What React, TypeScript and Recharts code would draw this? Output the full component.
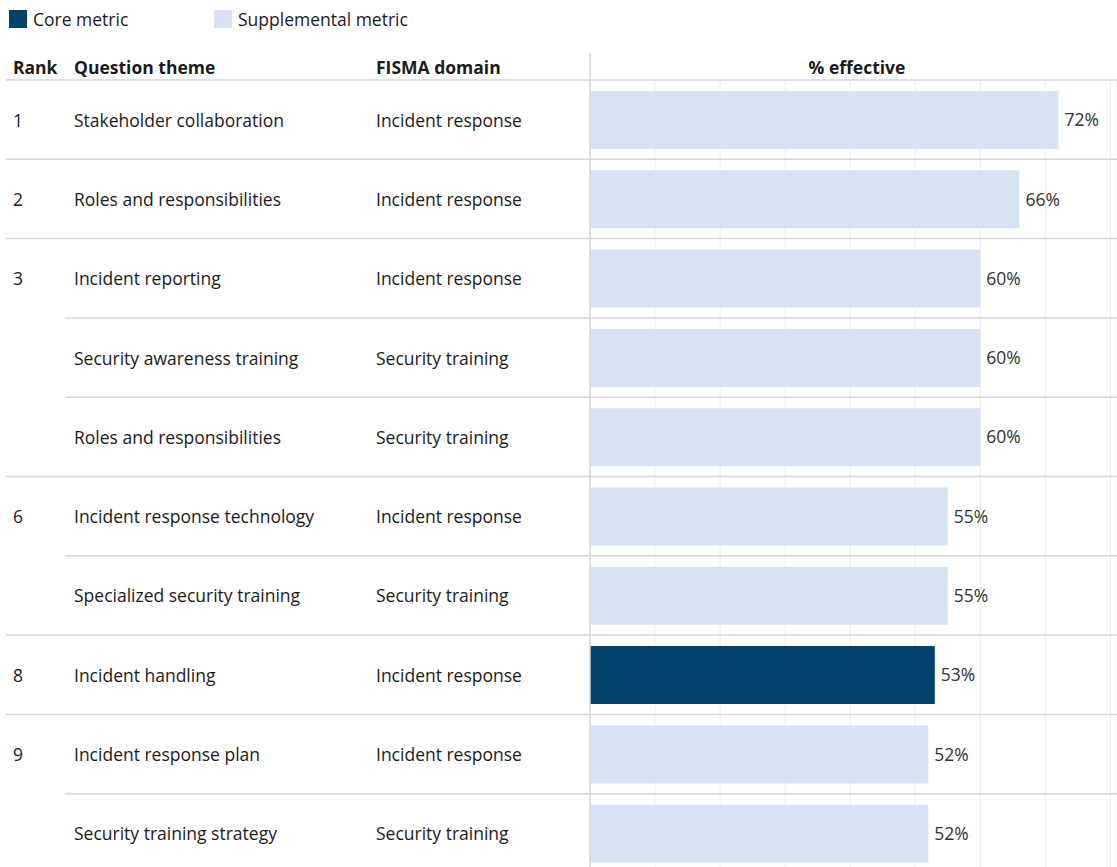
import { BarChart, Bar, XAxis, YAxis, CartesianGrid, Cell, LabelList, ReferenceLine } from 'recharts';

const ranks = ['1', '2', '3', '', '', '6', '', '8', '9', ''];
const themes = [
  'Stakeholder collaboration',
  'Roles and responsibilities',
  'Incident reporting',
  'Security awareness training',
  'Roles and responsibilities',
  'Incident response technology',
  'Specialized security training',
  'Incident handling',
  'Incident response plan',
  'Security training strategy',
];
const domains = [
  'Incident response',
  'Incident response',
  'Incident response',
  'Security training',
  'Security training',
  'Incident response',
  'Security training',
  'Incident response',
  'Incident response',
  'Security training',
];
const effective = [72, 66, 60, 60, 60, 55, 55, 53, 52, 52];
const metricTypes = ['supp', 'supp', 'supp', 'supp', 'supp', 'supp', 'supp', 'core', 'supp', 'supp'];
const headers = ['Rank', 'Question theme', 'FISMA domain', '% effective'];
const legendItems = [
  { key: 'core', label: 'Core metric' },
  { key: 'supp', label: 'Supplemental metric' },
];
const gridTicks = [0, 10, 20, 30, 40, 50, 60, 70, 80];

const COLORS: Record<string, string> = { core: '#02426B', supp: '#D7E3F4' };
const FONT = '"Open Sans", "Noto Sans", sans-serif';
const FS = 17.5;
const TEXT = '#1b1b1b';
const LINE = '#d6d6d6';

const W = 1117;
const H = 873;
const TOP = 80;
const ROW_H = (H - TOP) / ranks.length;

const data = themes.map((t, i) => ({
  id: String(i),
  theme: t,
  value: effective[i],
  type: metricTypes[i],
}));

// draws the table part of each row (rank / theme / domain + separator)
const RowTick = (props: any) => {
  const { y, index } = props;
  const top = y - ROW_H / 2;
  const full = ranks[index] !== '';
  return (
    <g fontFamily={FONT} fontSize={FS} fill={TEXT}>
      {index === 0 && (
        <g fontWeight={700}>
          <text x={13} y={67} dominantBaseline="central">{headers[0]}</text>
          <text x={74} y={67} dominantBaseline="central">{headers[1]}</text>
          <text x={376} y={67} dominantBaseline="central">{headers[2]}</text>
          <text x={857} y={67} textAnchor="middle" dominantBaseline="central">{headers[3]}</text>
          <line x1={590} x2={590} y1={53} y2={TOP} stroke={LINE} strokeWidth={1.5} />
        </g>
      )}
      <line x1={full ? 6 : 65} x2={W} y1={top} y2={top} stroke={LINE} strokeWidth={1.5} />
      <text x={13} y={y} dominantBaseline="central">{ranks[index]}</text>
      <text x={74} y={y} dominantBaseline="central">{themes[index]}</text>
      <text x={376} y={y} dominantBaseline="central">{domains[index]}</text>
    </g>
  );
};

export default function App() {
  return (
    <div style={{ position: 'relative', width: W, height: 867, overflow: 'hidden', background: '#fff', fontFamily: FONT }}>
      <style>{`body{margin:0}`}</style>
      {legendItems.map((it, i) => (
        <div
          key={it.key}
          style={{ position: 'absolute', top: 10, left: i === 0 ? 9 : 214, display: 'flex', alignItems: 'center', height: 18, zIndex: 2 }}
        >
          <span style={{ width: 18, height: 18, background: COLORS[it.key], display: 'inline-block' }} />
          <span style={{ marginLeft: 6, fontSize: FS, color: TEXT, whiteSpace: 'nowrap' }}>{it.label}</span>
        </div>
      ))}
      <div style={{ position: 'absolute', top: 0, left: 0 }}>
        <BarChart width={W} height={H} data={data} layout="vertical" margin={{ top: TOP, right: 0, bottom: 0, left: 0 }}>
          <CartesianGrid horizontal={false} stroke="#efefef" />
          <XAxis type="number" domain={[0, 81]} ticks={gridTicks} hide />
          <YAxis
            type="category"
            dataKey="id"
            width={590}
            axisLine={false}
            tickLine={false}
            interval={0}
            tick={<RowTick />}
          />
          <ReferenceLine x={0} stroke={LINE} strokeWidth={1.5} />
          <Bar dataKey="value" barSize={58} isAnimationActive={false}>
            {data.map((d, i) => (
              <Cell key={`cell-${i}`} fill={COLORS[d.type]} />
            ))}
            <LabelList
              dataKey="value"
              position="right"
              offset={6}
              formatter={(v: any) => `${v}%`}
              style={{ fontFamily: FONT, fontSize: FS, fill: '#333' }}
            />
          </Bar>
        </BarChart>
      </div>
    </div>
  );
}
